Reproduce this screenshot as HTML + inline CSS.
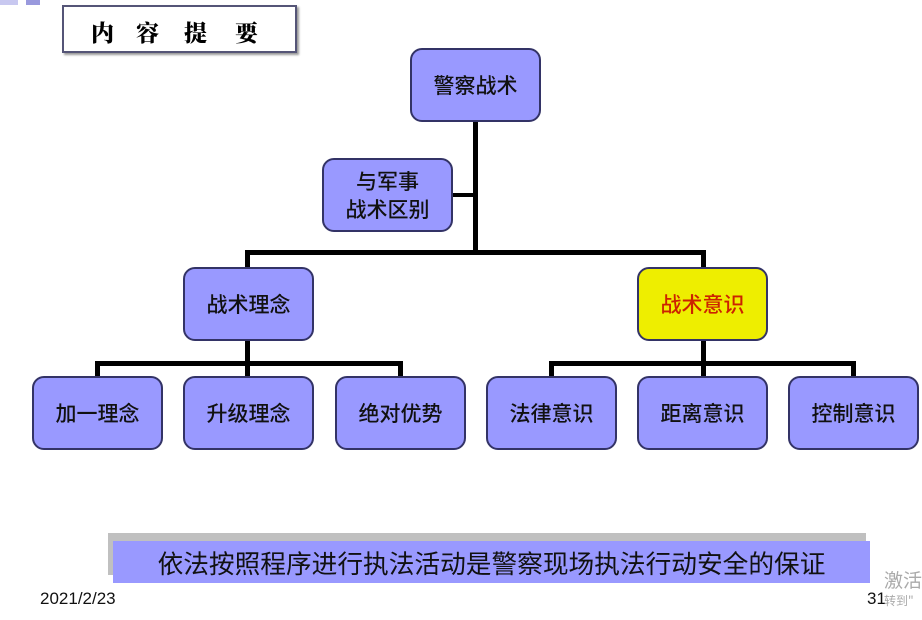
<!DOCTYPE html>
<html><head><meta charset="utf-8"><style>
body{margin:0;width:922px;height:620px;background:#fff;position:relative;overflow:hidden;font-family:"Liberation Sans","Noto Sans CJK SC",sans-serif}
.n{position:absolute;width:127px;height:70px;background:#9999ff;border:2px solid #333366;border-radius:12px;box-sizing:content-box;display:flex;align-items:center;justify-content:center;text-align:center;font-family:"Noto Sans CJK SC",sans-serif;font-weight:500;font-size:21px;color:#111;line-height:28px}
.l{position:absolute;background:#000}
</style></head><body>
<div style="position:absolute;left:0;top:0;width:18px;height:5px;background:#c8c8f0"></div>
<div style="position:absolute;left:26px;top:0;width:14px;height:5px;background:#9999dd"></div>
<div style="position:absolute;left:62px;top:5px;width:231px;height:44px;border:2px solid #555577;box-shadow:2px 2px 2px #999;background:#fff;font-family:'Noto Serif CJK SC',serif;font-weight:900;font-size:23px">
<span style="position:absolute;left:27px;top:8px">内</span><span style="position:absolute;left:72px;top:8px">容</span><span style="position:absolute;left:120px;top:8px">提</span><span style="position:absolute;left:171px;top:8px">要</span></div>

<div class="l" style="left:473px;top:122px;width:5px;height:132px"></div>
<div class="l" style="left:453px;top:193px;width:22px;height:4px"></div>
<div class="l" style="left:245px;top:250px;width:461px;height:5px"></div>
<div class="l" style="left:245px;top:250px;width:5px;height:18px"></div>
<div class="l" style="left:701px;top:250px;width:5px;height:18px"></div>
<div class="l" style="left:245px;top:341px;width:5px;height:36px"></div>
<div class="l" style="left:95px;top:361px;width:308px;height:5px"></div>
<div class="l" style="left:95px;top:361px;width:5px;height:16px"></div>
<div class="l" style="left:398px;top:361px;width:5px;height:16px"></div>
<div class="l" style="left:701px;top:341px;width:5px;height:36px"></div>
<div class="l" style="left:549px;top:361px;width:307px;height:5px"></div>
<div class="l" style="left:549px;top:361px;width:5px;height:16px"></div>
<div class="l" style="left:851px;top:361px;width:5px;height:16px"></div>

<div class="n" style="left:410px;top:48px">警察战术</div>
<div class="n" style="left:322px;top:158px">与军事<br>战术区别</div>
<div class="n" style="left:183px;top:267px">战术理念</div>
<div class="n" style="left:637px;top:267px;background:#eeee00;color:#cc2200">战术意识</div>
<div class="n" style="left:32px;top:376px">加一理念</div>
<div class="n" style="left:183px;top:376px">升级理念</div>
<div class="n" style="left:335px;top:376px">绝对优势</div>
<div class="n" style="left:486px;top:376px">法律意识</div>
<div class="n" style="left:637px;top:376px">距离意识</div>
<div class="n" style="left:788px;top:376px">控制意识</div>

<div style="position:absolute;left:108px;top:533px;width:758px;height:42px;background:#c0c0c0"></div>
<div style="position:absolute;left:113px;top:541px;width:757px;height:42px;background:#9999ff;display:flex;align-items:center;justify-content:center;font-family:'Noto Sans CJK SC',sans-serif;font-size:25.7px;color:#111">依法按照程序进行执法活动是警察现场执法行动安全的保证</div>
<div style="position:absolute;left:40px;top:589px;font-size:17px;color:#111">2021/2/23</div>
<div style="position:absolute;left:867px;top:589px;font-size:17px;color:#111">31</div>
<div style="position:absolute;left:884px;top:566px;font-size:19px;color:#aaa;font-family:'Noto Sans CJK SC',sans-serif">激活</div>
<div style="position:absolute;left:884px;top:592px;font-size:12px;color:#aaa;font-family:'Noto Sans CJK SC',sans-serif">转到"</div>
</body></html>
